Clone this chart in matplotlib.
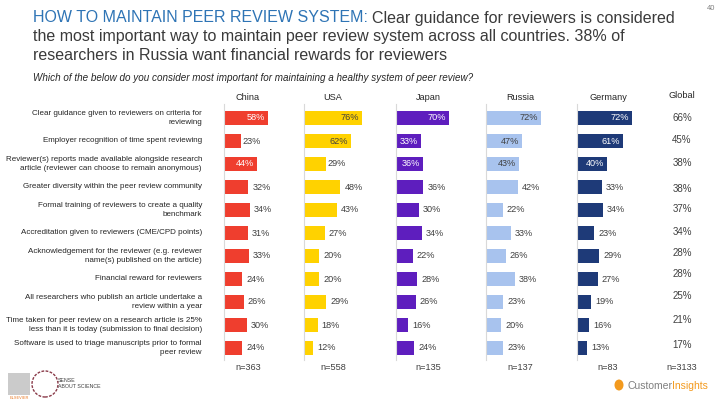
import matplotlib
matplotlib.use("Agg")
import matplotlib.pyplot as plt
from matplotlib.patches import Rectangle, Ellipse

plt.rcParams['font.family'] = ['Liberation Sans', 'DejaVu Sans']

W, H = 720, 405

categories = [
    "Clear guidance given to reviewers on criteria for\nreviewing",
    "Employer recognition of time spent reviewing",
    "Reviewer(s) reports made available alongside research\narticle (reviewer can choose to remain anonymous)",
    "Greater diversity within the peer review community",
    "Formal training of reviewers to create a quality\nbenchmark",
    "Accreditation given to reviewers (CME/CPD points)",
    "Acknowledgement for the reviewer (e.g. reviewer\nname(s) published on the article)",
    "Financial reward for reviewers",
    "All researchers who publish an article undertake a\nreview within a year",
    "Time taken for peer review on a research article is 25%\nless than it is today (submission to final decision)",
    "Software is used to triage manuscripts prior to formal\npeer review",
]

countries = ["China", "USA", "Japan", "Russia", "Germany"]
china = [58, 23, 44, 32, 34, 31, 33, 24, 26, 30, 24]
usa = [76, 62, 29, 48, 43, 27, 20, 20, 29, 18, 12]
japan = [70, 33, 36, 36, 30, 34, 22, 28, 26, 16, 24]
russia = [72, 47, 43, 42, 22, 33, 26, 38, 23, 20, 23]
germany = [72, 61, 40, 33, 34, 23, 29, 27, 19, 16, 13]
global_vals = [66, 45, 38, 38, 37, 34, 28, 28, 25, 21, 17]
sample_sizes = ["n=363", "n=558", "n=135", "n=137", "n=83", "n=3133"]

series = [china, usa, japan, russia, germany]
colors = ["#EF3E2E", "#FFD200", "#5E1EBE", "#A8C3EE", "#1E3A78"]
inside_text = ["white", "#404040", "white", "#404040", "white"]
axis_x0 = [224, 304, 396, 486, 577]
header_x = [248, 333, 428, 520, 608]
global_x = 682
global_y = [118, 140, 163, 189, 209, 232, 253, 274, 296, 320, 345]

fig = plt.figure(figsize=(7.2, 4.05), dpi=100)
fig.patch.set_facecolor("white")

def fx(px):
    return px / W

def fy(py):
    return 1 - py / H

top_px, bot_px = 104, 360
row0, rowsp = 118, 23.0
ylim_top = -(row0 - top_px) / rowsp
ylim_bot = (bot_px - row0) / rowsp
px_per_pct = 0.76
ax_w_px = 100 * px_per_pct
gray = "#404040"

for i, (vals, col) in enumerate(zip(series, colors)):
    ax = fig.add_axes([fx(axis_x0[i]), fy(bot_px), ax_w_px / W, (bot_px - top_px) / H])
    ax.set_xlim(0, 100)
    ax.set_ylim(ylim_bot, ylim_top)
    ax.barh(range(len(vals)), vals, height=0.6, color=col, zorder=2)
    for s in ["top", "right", "bottom"]:
        ax.spines[s].set_visible(False)
    ax.spines["left"].set_color("#D9D9D9")
    ax.spines["left"].set_linewidth(0.8)
    ax.set_xticks([])
    ax.set_yticks([])
    ax.patch.set_alpha(0)
    for r, v in enumerate(vals):
        lbl = f"{v}%"
        if r < 3 and v >= 30:
            ax.text(v - 3 / px_per_pct, r, lbl, ha="right", va="center",
                    fontsize=6.6, color=inside_text[i], zorder=3)
        else:
            off = 1 if r < 3 else 4
            ax.text(v + off / px_per_pct, r, lbl, ha="left", va="center",
                    fontsize=6.6, color=gray, zorder=3)
    fig.text(fx(header_x[i]), fy(97), countries[i], ha="center", va="center",
             fontsize=6.6, color="#262626")
    fig.text(fx(header_x[i]), fy(367), sample_sizes[i], ha="center", va="center",
             fontsize=6.6, color=gray)

fig.text(fx(global_x), fy(96), "Global", ha="center", va="center", fontsize=6.6, color="#262626")
fig.text(fx(global_x), fy(367), sample_sizes[5], ha="center", va="center", fontsize=6.6, color=gray)
for v, gy in zip(global_vals, global_y):
    fig.text(fx(global_x), fy(gy), f"{v}%", ha="center", va="center", fontsize=7, color=gray)

# row labels
for r, lab in enumerate(categories):
    fig.text(fx(202), fy(row0 + r * rowsp), lab, ha="right", va="center",
             fontsize=5.8, color="#262626", linespacing=1.4)

# title
TS = 11.5
t1 = fig.text(fx(33), fy(18), "HOW TO MAINTAIN PEER REVIEW SYSTEM:", ha="left", va="center",
              fontsize=TS, color="#2E74B5")
fig.canvas.draw()
bb = t1.get_window_extent(renderer=fig.canvas.get_renderer())
fig.text(bb.x1 / W + fx(4), fy(18), "Clear guidance for reviewers is considered",
         ha="left", va="center", fontsize=TS, color="#3A3A3A")
fig.text(fx(33), fy(37), "the most important way to maintain peer review system across all countries. 38% of",
         ha="left", va="center", fontsize=TS, color="#3A3A3A")
fig.text(fx(33), fy(56), "researchers in Russia want financial rewards for reviewers",
         ha="left", va="center", fontsize=TS, color="#3A3A3A")
fig.text(fx(711), fy(9), "40", ha="center", va="center", fontsize=5.5, color="#808080")
fig.text(fx(33), fy(78), "Which of the below do you consider most important for maintaining a healthy system of peer review?",
         ha="left", va="center", fontsize=7.1, style="italic", color="#262626")

# footer logos
fig.patches.append(Rectangle((fx(8), fy(395)), fx(22), 22 / H, transform=fig.transFigure,
                             facecolor="#BFBFBF", edgecolor="none", alpha=0.8))
fig.text(fx(19), fy(398), "ELSEVIER", ha="center", va="center", fontsize=2.8, color="#E87722")
fig.patches.append(Ellipse((fx(45), fy(384)), 26 / W, 26 / H, transform=fig.transFigure,
                           facecolor="none", edgecolor="#8A3B4A", linewidth=1.0, linestyle=(0, (2, 1))))
fig.text(fx(58), fy(381), "SENSE", ha="left", va="center", fontsize=3.8, color="#404040")
fig.text(fx(58), fy(387), "ABOUT SCIENCE", ha="left", va="center", fontsize=3.8, color="#404040")
fig.patches.append(Ellipse((fx(619), fy(385)), 9 / W, 11 / H, transform=fig.transFigure,
                           facecolor="#F39A1E", edgecolor="none"))
tc = fig.text(fx(627), fy(386), "Customer", ha="left", va="center", fontsize=7.5, color="#7F7F7F")
fig.canvas.draw()
bb2 = tc.get_window_extent(renderer=fig.canvas.get_renderer())
fig.text(bb2.x1 / W, fy(386), "Insights", ha="left", va="center", fontsize=7.5, color="#F39A1E")

fig.savefig("out.png", dpi=100)
